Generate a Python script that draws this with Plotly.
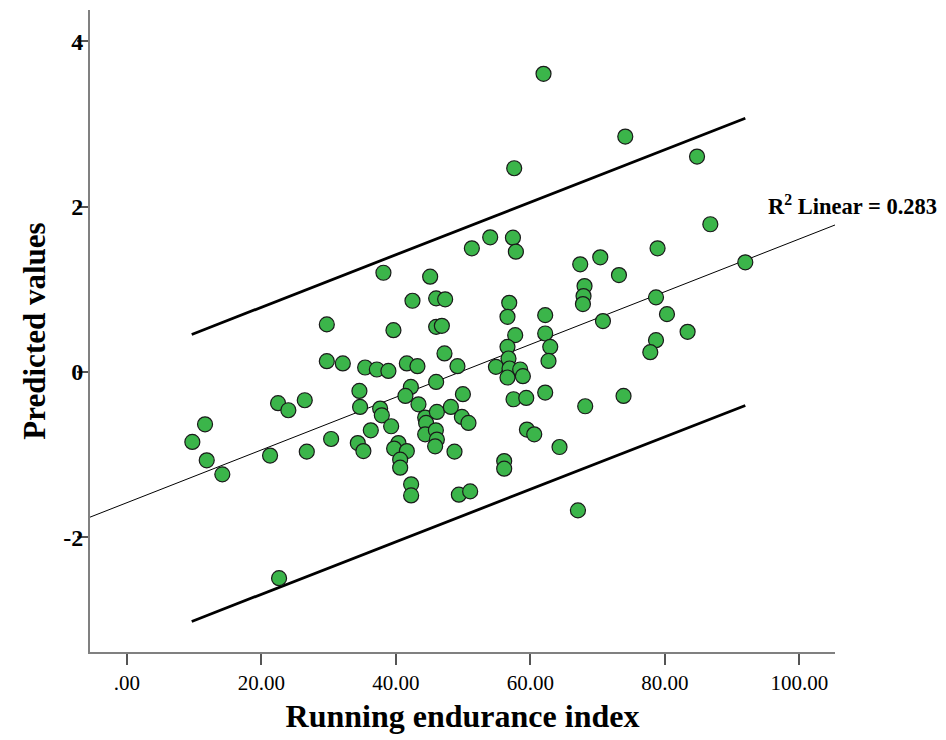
import plotly.graph_objects as go

# ---- data ----
endurance = [51.29, 38.14, 45.09, 42.46, 45.98, 47.32, 29.72, 39.63, 45.98, 46.83,
             47.22, 29.72, 32.10, 35.42, 37.16, 38.88, 41.62, 43.20, 49.15, 45.98,
             49.96, 34.57, 42.22, 41.41, 34.67, 37.65, 37.90, 43.35, 44.35, 46.09,
             48.17, 49.81, 50.79, 44.49, 39.29, 36.26, 44.35, 45.94, 46.09, 45.83,
             34.33, 35.16, 40.37, 39.73, 41.62, 40.63, 40.63, 48.71, 22.47, 24.00,
             26.44, 11.61, 9.72, 11.86, 14.18, 21.28, 26.74, 30.36, 42.26, 42.26,
             49.36, 51.04, 61.95, 74.11, 57.59, 84.78, 86.76, 54.02, 57.40, 57.84,
             78.91, 67.41, 70.39, 73.17, 91.96, 56.85, 56.59, 62.20, 68.05, 67.90,
             67.81, 78.68, 80.31, 83.38, 70.79, 57.74, 62.20, 56.59, 62.95, 78.68,
             77.83, 62.69, 56.74, 54.87, 56.89, 56.59, 58.48, 58.88, 57.49, 59.38,
             62.20, 68.15, 73.85, 59.48, 60.57, 64.33, 56.10, 56.10, 67.07, 22.62]
predicted = [1.496, 1.200, 1.152, 0.861, 0.890, 0.878, 0.575, 0.505, 0.545, 0.558,
             0.223, 0.130, 0.102, 0.053, 0.029, 0.012, 0.102, 0.069, 0.069, -0.121,
             -0.270, -0.230, -0.182, -0.291, -0.424, -0.444, -0.525, -0.392, -0.553, -0.485,
             -0.424, -0.545, -0.618, -0.618, -0.658, -0.707, -0.755, -0.707, -0.819, -0.901,
             -0.861, -0.958, -0.861, -0.928, -0.958, -1.062, -1.159, -0.965, -0.379, -0.464,
             -0.343, -0.634, -0.848, -1.070, -1.240, -1.013, -0.965, -0.812, -1.361, -1.495,
             -1.486, -1.446, 3.608, 2.848, 2.465, 2.606, 1.787, 1.629, 1.624, 1.455,
             1.496, 1.302, 1.387, 1.172, 1.326, 0.836, 0.667, 0.687, 1.039, 0.918,
             0.821, 0.902, 0.699, 0.485, 0.615, 0.445, 0.465, 0.303, 0.303, 0.384,
             0.239, 0.133, 0.162, 0.061, 0.041, -0.068, 0.029, -0.052, -0.331, -0.315,
             -0.250, -0.416, -0.291, -0.698, -0.755, -0.909, -1.079, -1.171, -1.676, -2.497]

fit_x = [-5.5, 105.3]
fit_y = [-1.758, 1.778]
band_x = [9.63, 91.96]
band_upper = [0.453, 3.07]
band_lower = [-3.02, -0.407]

x_tickvals = [0, 20, 40, 60, 80, 100]
x_ticktext = [".00", "20.00", "40.00", "60.00", "80.00", "100.00"]
y_tickvals = [-2, 0, 2, 4]
y_ticktext = ["-2", "0", "2", "4"]

r2_label = "R<sup>2</sup> Linear = 0.283"

SERIF = "Liberation Serif, Times New Roman, serif"

fig = go.Figure()
fig.add_trace(go.Scatter(x=fit_x, y=fit_y, mode="lines",
                         line=dict(color="#000000", width=1), hoverinfo="skip"))
fig.add_trace(go.Scatter(x=band_x, y=band_upper, mode="lines",
                         line=dict(color="#000000", width=2.8), hoverinfo="skip"))
fig.add_trace(go.Scatter(x=band_x, y=band_lower, mode="lines",
                         line=dict(color="#000000", width=2.8), hoverinfo="skip"))
fig.add_trace(go.Scatter(x=endurance, y=predicted, mode="markers",
                         marker=dict(size=15, color="#3BB54A",
                                     line=dict(color="#1a1a1a", width=1.2))))

fig.add_annotation(x=95.0, y=2.02, xref="x", yref="y", text=r2_label,
                   showarrow=False, xanchor="left", yanchor="middle",
                   font=dict(family=SERIF, size=22.5, color="#000000", weight="bold"))

# page body has an 8px default margin, so the figure origin sits at (8, 8)
fig.update_layout(
    width=946, height=740,
    margin=dict(l=82, r=119, t=2, b=96),
    paper_bgcolor="white", plot_bgcolor="white",
    showlegend=False,
    font=dict(family=SERIF, color="#000000"),
)
fig.update_xaxes(
    range=[-5.5, 105.3], tickvals=x_tickvals, ticktext=x_ticktext,
    automargin=False,
    showgrid=False, zeroline=False, showline=True, linecolor="#808080", linewidth=2,
    ticks="outside", ticklen=11, tickwidth=2, tickcolor="#555555",
    tickfont=dict(family=SERIF, size=21, color="#000000"),
    title=dict(text="<b>Running endurance index</b>", font=dict(family=SERIF, size=32, color="#000000"),
               standoff=10),
)
fig.update_yaxes(
    range=[-3.39, 4.38], tickvals=y_tickvals, ticktext=y_ticktext,
    automargin=False,
    showgrid=False, zeroline=False, showline=True, linecolor="#808080", linewidth=2,
    ticks="outside", ticklen=11, tickwidth=2, tickcolor="#555555",
    tickfont=dict(family=SERIF, size=24, color="#000000", weight="bold"),
    ticklabelstandoff=-11,
    title=dict(text="<b>Predicted values</b>", font=dict(family=SERIF, size=31, color="#000000"),
               standoff=8),
)

fig.write_html("out.html")
